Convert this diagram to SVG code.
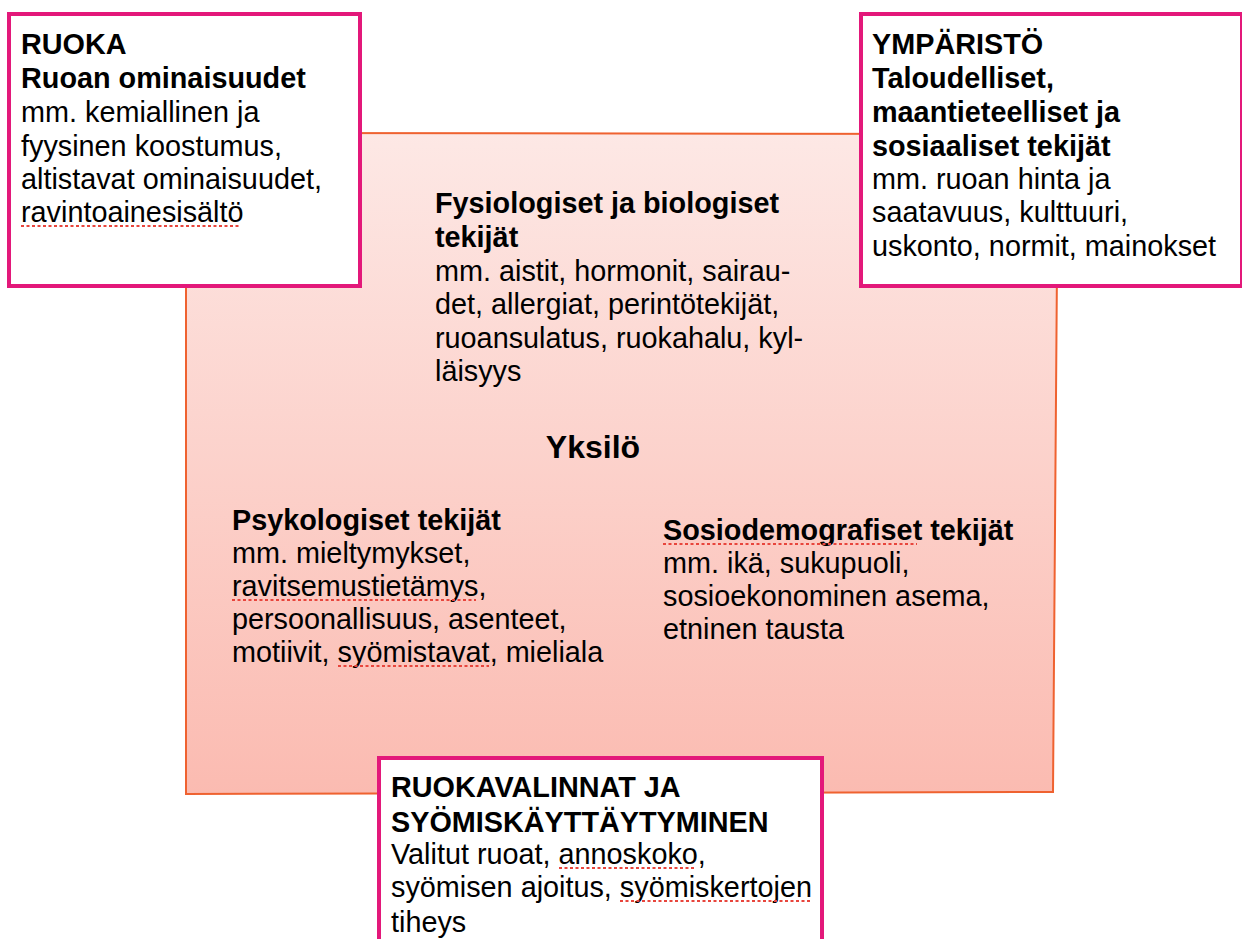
<svg xmlns="http://www.w3.org/2000/svg" width="1242" height="939" viewBox="0 0 1242 939">
<defs>
<linearGradient id="pinkGrad" x1="0" y1="0" x2="0" y2="1">
<stop offset="0" stop-color="#fde8e5"/>
<stop offset="1" stop-color="#fbbbb1"/>
</linearGradient>
<style>
text{font-family:"Liberation Sans",Arial,Helvetica,sans-serif;font-size:28.8px;fill:#000;}
.b{font-weight:bold;}
.box{fill:#fff;stroke:#e3187a;stroke-width:4;}
.spell{stroke:#e8453c;stroke-width:2.2;stroke-dasharray:3 2.5;fill:none;}
</style>
</defs>
<rect width="1242" height="939" fill="#fff"/>
<g id="yksilo">
<polygon points="186,133 1058,134 1053,792 186,794" fill="url(#pinkGrad)" stroke="#ef6230" stroke-width="2"/>
<text x="593" y="458" text-anchor="middle" class="b" style="font-size:32px">Yksilö</text>
</g>
<g id="fysiologiset">
<text x="435" y="213" class="b">Fysiologiset ja biologiset</text>
<text x="435" y="247" class="b">tekijät</text>
<text x="435" y="281">mm. aistit, hormonit, sairau-</text>
<text x="435" y="314">det, allergiat, perintötekijät,</text>
<text x="435" y="348">ruoansulatus, ruokahalu, kyl-</text>
<text x="435" y="381">läisyys</text>
</g>
<g id="psykologiset">
<text x="232" y="530" class="b">Psykologiset tekijät</text>
<text x="232" y="563">mm. mieltymykset,</text>
<text x="232" y="596">ravitsemustietämys,</text>
<text x="232" y="629">persoonallisuus, asenteet,</text>
<text x="232" y="662">motiivit, syömistavat, mieliala</text>
<path class="spell" d="M232,600 H476 M338,666 H489"/>
</g>
<g id="sosiodemografiset">
<text x="663" y="540" class="b">Sosiodemografiset tekijät</text>
<text x="663" y="573">mm. ikä, sukupuoli,</text>
<text x="663" y="606">sosioekonominen asema,</text>
<text x="663" y="639">etninen tausta</text>
<path class="spell" d="M663,544 H917"/>
</g>
<g id="ruoka">
<rect class="box" x="9" y="14" width="351" height="272"/>
<text x="21" y="54" class="b">RUOKA</text>
<text x="21" y="88" class="b">Ruoan ominaisuudet</text>
<text x="21" y="122">mm. kemiallinen ja</text>
<text x="21" y="156">fyysinen koostumus,</text>
<text x="21" y="189">altistavat ominaisuudet,</text>
<text x="21" y="222">ravintoainesisältö</text>
<path class="spell" d="M21,226 H241"/>
</g>
<g id="ymparisto">
<rect class="box" x="861" y="14" width="381" height="272"/>
<text x="872" y="54" class="b">YMPÄRISTÖ</text>
<text x="872" y="88" class="b">Taloudelliset,</text>
<text x="872" y="122" class="b">maantieteelliset ja</text>
<text x="872" y="156" class="b">sosiaaliset tekijät</text>
<text x="872" y="189">mm. ruoan hinta ja</text>
<text x="872" y="222">saatavuus, kulttuuri,</text>
<text x="872" y="256">uskonto, normit, mainokset</text>
</g>
<g id="ruokavalinnat">
<rect class="box" x="379" y="758" width="443" height="200"/>
<text x="391" y="797" class="b">RUOKAVALINNAT JA</text>
<text x="391" y="832" class="b">SYÖMISKÄYTTÄYTYMINEN</text>
<text x="391" y="864">Valitut ruoat, annoskoko,</text>
<text x="391" y="897">syömisen ajoitus, syömiskertojen</text>
<text x="391" y="932">tiheys</text>
<path class="spell" d="M559,868 H696 M620,901 H810"/>
</g>
</svg>
